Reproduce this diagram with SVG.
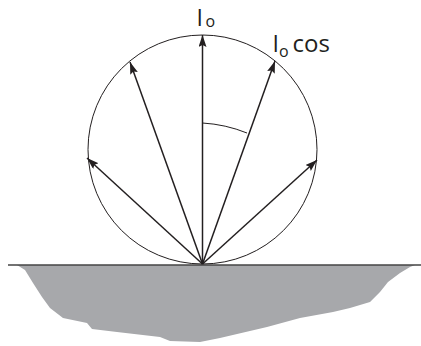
<svg xmlns="http://www.w3.org/2000/svg" width="421" height="346" viewBox="0 0 421 346">
<style>
.ray{stroke:#231f20;stroke-width:1.5;fill:none}
.thin{stroke:#231f20;stroke-width:1;fill:none}
.lbl{font-family:"Open Sans","Noto Sans",sans-serif;fill:#231f20}
</style>
<defs>
<marker id="ah" markerUnits="userSpaceOnUse" markerWidth="14" markerHeight="10" refX="12" refY="4" orient="auto">
<path d="M0,0 L12,4 L0,8 L2,4 z" fill="#231f20"/>
</marker>
</defs>
<g id="ground">
<path d="M17,265 L25,270 L33,283 L42,297 L50,308 L63,318 L87,323 L92,329 L117,332 L160,337 L170,341 L200,342 L220,338 L267,327 L300,318 L333,312 L350,308 L370,302 L380,292 L388,282 L400,273 L410,267 L415,265 Z" fill="#a7a8ab"/>
<line x1="8" y1="265" x2="421" y2="265" stroke="#444" stroke-width="1.3"/>
</g>
<g id="circle">
<circle cx="202.5" cy="149.5" r="114.5" class="thin"/>
</g>
<g id="connectors">
<line x1="202.5" y1="264" x2="202.5" y2="35" class="ray" marker-end="url(#ah)"/>
<line x1="202.5" y1="264" x2="130" y2="62" class="ray" marker-end="url(#ah)"/>
<line x1="202.5" y1="264" x2="275" y2="61" class="ray" marker-end="url(#ah)"/>
<line x1="202.5" y1="264" x2="87" y2="158" class="ray" marker-end="url(#ah)"/>
<line x1="202.5" y1="264" x2="317" y2="160" class="ray" marker-end="url(#ah)"/>
<path d="M202.5,123 A141,141 0 0 1 247,133" class="thin"/>
</g>
<g id="label-top">
<text class="lbl" x="196.5" y="25.5" font-size="23">I</text>
<text class="lbl" x="205.5" y="27" font-size="16">o</text>
</g>
<g id="label-cos">
<text class="lbl" x="272.5" y="51.7" font-size="23">I</text>
<text class="lbl" x="279" y="57" font-size="16">o</text>
<text class="lbl" x="292.5" y="51.7" font-size="24">cos</text>
</g>
</svg>
